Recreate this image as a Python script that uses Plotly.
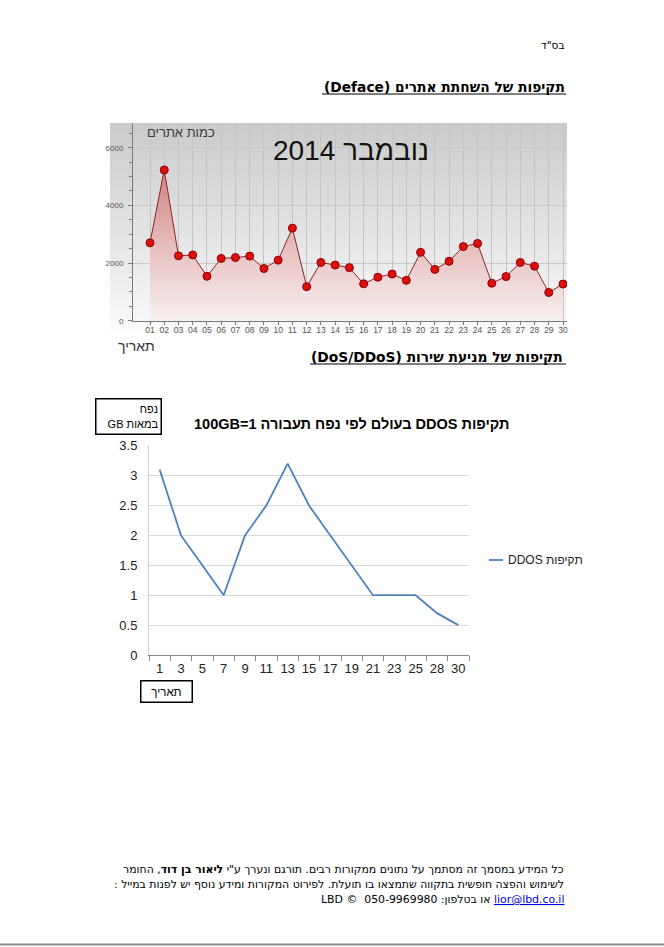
import plotly.graph_objects as go

W, H = 664, 947

# --- data: Deface attacks, November 2014 ---
days = list(range(1, 31))
day_labels = ["%02d" % d for d in days]
deface_sites = [2700, 5230, 2250, 2280, 1540, 2160, 2190, 2240, 1810, 2100,
                3210, 1180, 2020, 1930, 1840, 1280, 1510, 1620, 1400, 2370,
                1780, 2060, 2570, 2680, 1300, 1530, 2020, 1890, 980, 1270]
deface_yticks = [0, 2000, 4000, 6000]

# --- data: DDOS attacks by volume (1 = 100GB) ---
ddos_days = ["1", "3", "5", "7", "9", "11", "13", "15", "17", "19", "21", "23", "25", "28", "30"]
ddos_volume = [3.1, 2.0, 1.5, 1.0, 2.0, 2.5, 3.2, 2.5, 2.0, 1.5, 1.0, 1.0, 1.0, 0.7, 0.5]
ddos_name = "תקיפות DDOS"


def px_x(x):
    return x / W


def px_y(y):
    return 1 - y / H


def rtl(s):
    # right-to-left embedding so the Hebrew reads correctly
    return "\u202b" + s + "\u202c"


DOC_FONT = "DejaVu Sans"
CHART_FONT = "Liberation Sans"
DDOS_BLUE = "#4f81bd"

fig = go.Figure()

# top chart: area + markers
fig.add_trace(go.Scatter(
    x=days, y=deface_sites, mode="lines+markers",
    line=dict(color="#8e2323", width=1),
    marker=dict(size=8, color="#dd0f0f", line=dict(color="#8a0000", width=1)),
    fill="tozeroy",
    fillgradient=dict(type="vertical", start=0, stop=5300,
                      colorscale=[[0, "#f8f0f0"], [0.45, "#e8c2c2"], [1, "#cf8080"]]),
    xaxis="x", yaxis="y", showlegend=False, hoverinfo="x+y",
))

# bottom chart: DDOS line
fig.add_trace(go.Scatter(
    x=ddos_days, y=ddos_volume, mode="lines",
    name=rtl(ddos_name), showlegend=False,
    line=dict(color=DDOS_BLUE, width=1.8),
    xaxis="x2", yaxis="y2",
))

# gradient background of the top chart image
shapes = []
top, bottom, left, right = 123, 331, 110, 567
bands = 60
for i in range(bands):
    t = i / (bands - 1)
    c = int(203 + (250 - 203) * t)
    y0 = top + (bottom - top) * i / bands
    y1 = top + (bottom - top) * (i + 1) / bands + 0.6
    shapes.append(dict(type="rect", xref="paper", yref="paper",
                       x0=px_x(left), x1=px_x(right), y0=px_y(y1), y1=px_y(y0),
                       fillcolor="rgb(%d,%d,%d)" % (c, c, c), line=dict(width=0), layer="below"))

# heading underlines, legend sample, page bottom line
shapes.append(dict(type="line", xref="paper", yref="paper",
                   x0=px_x(322), x1=px_x(566), y0=px_y(94), y1=px_y(94),
                   line=dict(color="black", width=1)))
shapes.append(dict(type="line", xref="paper", yref="paper",
                   x0=px_x(310), x1=px_x(566), y0=px_y(364), y1=px_y(364),
                   line=dict(color="black", width=1)))
shapes.append(dict(type="line", xref="paper", yref="paper",
                   x0=px_x(489), x1=px_x(503), y0=px_y(560), y1=px_y(560),
                   line=dict(color=DDOS_BLUE, width=1.8)))
shapes.append(dict(type="line", xref="paper", yref="paper",
                   x0=0, x1=1, y0=px_y(944.5), y1=px_y(944.5),
                   line=dict(color="#8c8c8c", width=2)))

annotations = []


def note(text, x, y, size, xanchor="center", font=DOC_FONT, color="black", **kw):
    annotations.append(dict(text=text, x=px_x(x), y=px_y(y), xref="paper", yref="paper",
                            xanchor=xanchor, yanchor="middle", showarrow=False,
                            font=dict(family=font, size=size, color=color), **kw))


note(rtl('בס"ד'), 566, 45, 10.5, xanchor="right")
note(rtl("<b>תקיפות של השחתת אתרים (Deface)</b>"), 567, 87, 13.8, xanchor="right")
note(rtl("<b>תקיפות של מניעת שירות (DoS/DDoS)</b>"), 565, 357, 13.8, xanchor="right")

# top chart texts
note(rtl("נובמבר 2014"), 351, 150, 28, font=CHART_FONT, color="#111111")
note(rtl("כמות אתרים"), 181, 132, 13, font=CHART_FONT, color="#3a3a3a")
note(rtl("תאריך"), 136, 346, 14, font=CHART_FONT, color="#333333")

# bottom chart texts
note(rtl("<b>תקיפות DDOS בעולם לפי נפח תעבורה 1=100GB</b>"), 351, 424, 14.5, font=CHART_FONT)
note(rtl(ddos_name), 506, 560, 12, xanchor="left", font=CHART_FONT, color="#222222")
annotations.append(dict(text=rtl("נפח") + "<br>" + rtl("במאות GB"), x=px_x(128), y=px_y(416),
                        xref="paper", yref="paper", xanchor="center", yanchor="middle",
                        showarrow=False, align="right", width=60, height=30,
                        bordercolor="black", borderwidth=1.5, borderpad=2, bgcolor="white",
                        font=dict(family=CHART_FONT, size=11, color="black")))
annotations.append(dict(text=rtl("תאריך"), x=px_x(166), y=px_y(691.5),
                        xref="paper", yref="paper", xanchor="center", yanchor="middle",
                        showarrow=False, width=46, height=16,
                        bordercolor="black", borderwidth=1.5, borderpad=2, bgcolor="white",
                        font=dict(family=CHART_FONT, size=11.5, color="black")))

# footer
note(rtl('כל המידע במסמך זה מסתמך על נתונים ממקורות רבים. תורגם ונערך ע"י <b>ליאור בן דוד</b>, החומר'),
     566, 869, 10.9, xanchor="right")
note(rtl("לשימוש והפצה חופשית בתקווה שתמצאו בו תועלת. לפירוט המקורות ומידע נוסף יש לפנות במייל :"),
     566, 884, 10.9, xanchor="right")
note(rtl('<span style="color:#0000ee;text-decoration:underline">lior@lbd.co.il</span> או בטלפון: 050-9969980  © LBD'),
     566, 899, 10.9, xanchor="right")

# axis domains (pixel positions turned into paper fractions)
top_x0, top_x1 = 133, 567
top_y0, top_y1 = 320.7, 123
step = (563 - 150) / 29
bot_x0, bot_x1 = 149, 469
bot_y0, bot_y1 = 655, 445.7

fig.update_layout(
    width=W, height=H,
    margin=dict(l=0, r=0, t=0, b=0, autoexpand=False),
    paper_bgcolor="white", plot_bgcolor="rgba(0,0,0,0)",
    shapes=shapes, annotations=annotations,
    showlegend=False,
    xaxis=dict(
        domain=[px_x(top_x0), px_x(top_x1)],
        range=[1 - (150 - top_x0) / step, 30 + (top_x1 - 563) / step],
        tickvals=days, ticktext=day_labels, tickangle=0,
        showgrid=True, gridcolor="#c4c4c4", gridwidth=1,
        showline=True, linecolor="#7a7a7a", linewidth=1,
        ticks="outside", ticklen=3, tickcolor="#7a7a7a", ticklabelstandoff=-2,
        tickfont=dict(family=CHART_FONT, size=8.5, color="#555555"),
        zeroline=False, fixedrange=True, anchor="y", automargin=False,
    ),
    yaxis=dict(
        domain=[px_y(top_y0), px_y(top_y1)],
        range=[0, (top_y0 - top_y1) / ((320.7 - 147.7) / 6000)],
        tickvals=deface_yticks, ticktext=[str(v) for v in deface_yticks],
        showgrid=True, gridcolor="#c8c8c8",
        showline=True, linecolor="#7a7a7a", linewidth=1,
        ticks="outside", ticklen=4, tickcolor="#7a7a7a",
        minor=dict(dtick=500, ticks="outside", ticklen=3, tickcolor="#7a7a7a", showgrid=False),
        ticklabelstandoff=3,
        tickfont=dict(family=CHART_FONT, size=8, color="#555555"),
        zeroline=False, fixedrange=True, anchor="x", automargin=False,
    ),
    xaxis2=dict(
        domain=[px_x(bot_x0), px_x(bot_x1)],
        type="category", range=[-0.5, len(ddos_days) - 0.5], tickangle=0,
        tickson="boundaries", ticks="outside", ticklen=5, tickcolor="#868686",
        ticklabelstandoff=1,
        showgrid=False, showline=True, linecolor="#868686", linewidth=1,
        tickfont=dict(family=CHART_FONT, size=13, color="#222222"),
        fixedrange=True, anchor="y2", automargin=False,
    ),
    yaxis2=dict(
        domain=[px_y(bot_y0), px_y(bot_y1)],
        range=[0, 3.5], dtick=0.5,
        showgrid=True, gridcolor="#d9d9d9", gridwidth=1,
        showline=True, linecolor="#d0d0d0",
        zeroline=False, ticks="", ticklabelstandoff=8,
        tickfont=dict(family=CHART_FONT, size=13, color="#222222"),
        fixedrange=True, anchor="x2", automargin=False,
    ),
)

fig.write_html("out.html", config={"displayModeBar": False},
               post_script="document.body.style.margin='0px';")
